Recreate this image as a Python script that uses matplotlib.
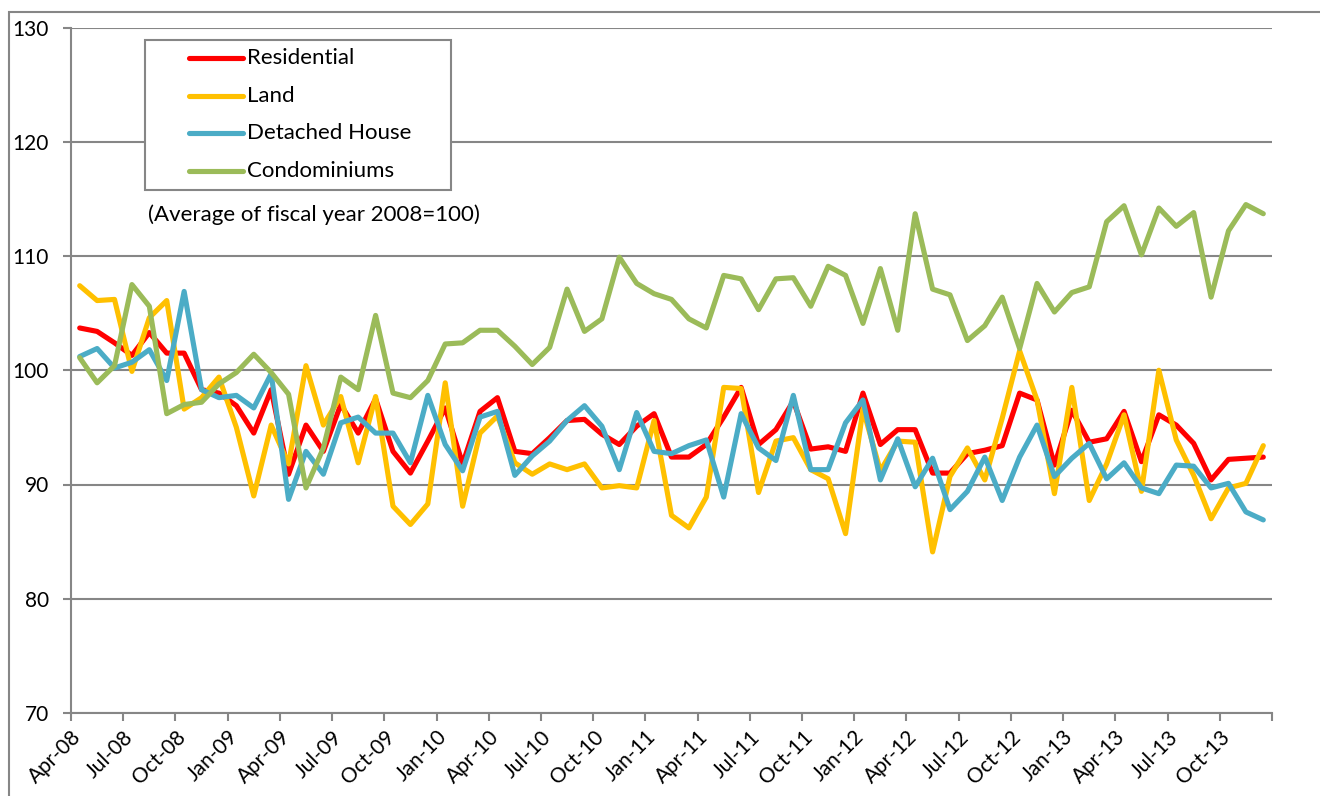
import matplotlib
matplotlib.use("Agg")
import matplotlib.pyplot as plt
from matplotlib.lines import Line2D
from matplotlib.patches import Rectangle

plt.rcParams['font.family'] = ['Lato', 'DejaVu Sans']

# Monthly index, Apr-08 .. Dec-13 (average of fiscal year 2008 = 100)
residential = [103.7, 103.4, 102.4, 101.3, 103.3, 101.5, 101.5, 98.3, 98.0, 96.9,
               94.5, 98.3, 90.9, 95.2, 92.9, 97.0, 94.5, 97.5, 92.9, 91.0,
               93.8, 96.7, 91.8, 96.4, 97.6, 92.9, 92.7, 94.1, 95.6, 95.7,
               94.4, 93.5, 95.1, 96.2, 92.4, 92.4, 93.5, 95.9, 98.5, 93.5,
               94.8, 97.3, 93.1, 93.3, 92.9, 98.0, 93.5, 94.8, 94.8, 91.0,
               91.0, 92.7, 93.0, 93.4, 98.0, 97.4, 91.7, 96.5, 93.7, 94.0,
               96.4, 92.0, 96.1, 95.2, 93.6, 90.4, 92.2, 92.3, 92.4]
land = [107.4, 106.1, 106.2, 99.9, 104.6, 106.1, 96.6, 97.6, 99.4, 95.0,
        89.0, 95.2, 91.8, 100.4, 95.2, 97.7, 91.9, 97.7, 88.1, 86.5,
        88.3, 98.9, 88.1, 94.5, 96.0, 91.9, 90.9, 91.8, 91.3, 91.8,
        89.7, 89.9, 89.7, 95.6, 87.3, 86.2, 88.9, 98.5, 98.4, 89.3,
        93.8, 94.1, 91.3, 90.5, 85.7, 96.6, 91.2, 93.8, 93.7, 84.1,
        90.7, 93.2, 90.4, 95.8, 101.7, 97.4, 89.2, 98.5, 88.6, 91.8,
        96.1, 89.4, 100.0, 93.9, 90.8, 87.0, 89.7, 90.1, 93.4]
detached = [101.2, 101.9, 100.2, 100.7, 101.8, 99.1, 106.9, 98.3, 97.6, 97.8,
            96.7, 99.7, 88.7, 92.9, 90.9, 95.4, 95.9, 94.5, 94.5, 91.9,
            97.8, 93.5, 91.2, 95.9, 96.4, 90.8, 92.5, 93.8, 95.6, 96.9,
            95.1, 91.3, 96.3, 92.9, 92.7, 93.4, 93.9, 88.9, 96.2, 93.2,
            92.1, 97.8, 91.3, 91.3, 95.4, 97.4, 90.4, 94.0, 89.8, 92.3,
            87.8, 89.4, 92.4, 88.6, 92.4, 95.2, 90.7, 92.3, 93.6, 90.5,
            91.9, 89.7, 89.2, 91.7, 91.6, 89.7, 90.1, 87.6, 86.9]
condo = [101.1, 98.9, 100.4, 107.5, 105.6, 96.2, 97.0, 97.2, 98.8, 99.8,
         101.4, 99.8, 97.9, 89.7, 93.2, 99.4, 98.3, 104.8, 98.0, 97.6,
         99.1, 102.3, 102.4, 103.5, 103.5, 102.1, 100.5, 102.0, 107.1, 103.4,
         104.5, 109.9, 107.6, 106.7, 106.2, 104.5, 103.7, 108.3, 108.0, 105.3,
         108.0, 108.1, 105.6, 109.1, 108.3, 104.1, 108.9, 103.5, 113.7, 107.1,
         106.6, 102.6, 103.9, 106.4, 101.9, 107.6, 105.1, 106.8, 107.3, 113.0,
         114.4, 110.1, 114.2, 112.6, 113.8, 106.4, 112.2, 114.5, 113.7]

series_names = ["Residential", "Land", "Detached House", "Condominiums"]
series_colors = ["#FF0000", "#FFC000", "#4BACC6", "#9BBB59"]

tick_labels = ["Apr-08", "Jul-08", "Oct-08", "Jan-09", "Apr-09", "Jul-09", "Oct-09",
               "Jan-10", "Apr-10", "Jul-10", "Oct-10", "Jan-11", "Apr-11", "Jul-11",
               "Oct-11", "Jan-12", "Apr-12", "Jul-12", "Oct-12", "Jan-13", "Apr-13",
               "Jul-13", "Oct-13", ""]

W, H = 1320, 796
fig = plt.figure(figsize=(W / 100, H / 100), dpi=100)
ax = fig.add_axes([71 / W, 1 - 713 / H, (1272 - 71) / W, (713 - 27.5) / H])

grey = "#868686"
x = list(range(len(residential)))
for vals, name, col in zip([residential, land, detached, condo], series_names, series_colors):
    ax.plot(x, vals, color=col, lw=3.7, label=name, solid_joinstyle="round",
            solid_capstyle="round")

ax.set_xlim(-0.5, len(residential) - 0.5)
ax.set_ylim(70, 130)
ax.set_yticks(range(70, 131, 10))
ax.yaxis.grid(True, color=grey, lw=1.5)
ax.set_axisbelow(True)
ax.set_xticks([-0.5 + 3 * k for k in range(len(tick_labels))])
ax.set_xticklabels(tick_labels, rotation=45, ha="right", rotation_mode="anchor")

for s in ["top", "right"]:
    ax.spines[s].set_visible(False)
for s in ["left", "bottom"]:
    ax.spines[s].set_color(grey)
    ax.spines[s].set_linewidth(1.5)
ax.tick_params(axis="both", color=grey, width=1.5, length=6, labelsize=15)
ax.tick_params(axis="y", pad=10)
ax.tick_params(axis="x", pad=4)

# chart area border (only top/left visible)
fig.patches.append(Rectangle((9 / W, -0.1), 1.2, 1 - 12 / H + 0.1, transform=fig.transFigure,
                             fill=False, edgecolor=grey, lw=1.5))

# legend box drawn by hand to match the original spacing
fig.patches.append(Rectangle((145 / W, 1 - 190 / H), (451 - 145) / W, (190 - 40) / H,
                             transform=fig.transFigure, facecolor="white",
                             edgecolor=grey, lw=1.5, zorder=5))
for k, (name, col) in enumerate(zip(series_names, series_colors)):
    yy = 1 - (58 + 37.6 * k) / H
    fig.lines.append(Line2D([189 / W, 243 / W], [yy, yy], transform=fig.transFigure,
                            color=col, lw=3.7, solid_capstyle="round", zorder=6))
    fig.text(247 / W, yy, name, fontsize=16, va="center", ha="left", zorder=7)

fig.text(148 / W, 1 - 215 / H, "(Average of fiscal year 2008=100)", fontsize=16,
         va="center", ha="left")

fig.savefig("out.png", dpi=100)
